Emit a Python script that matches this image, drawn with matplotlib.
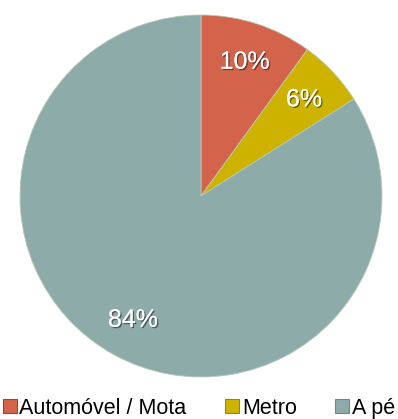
import matplotlib.pyplot as plt
import matplotlib.patheffects as pe
from matplotlib.patches import Rectangle

labels = ["Automóvel / Mota", "Metro", "A pé"]
shares = [10, 6, 84]
colors = ["#D3634B", "#CDB300", "#8CABA9"]
edges = ["#a5402c", "#9a8600", "#6d8b89"]

plt.rcParams['font.family'] = ['Liberation Sans', 'DejaVu Sans']

fig = plt.figure(figsize=(3.98, 4.19), dpi=100)
ax = fig.add_axes([20 / 398, 42 / 419, 362 / 398, 362 / 419])

wedges, texts, autotexts = ax.pie(
    shares, colors=colors, startangle=90, counterclock=False,
    autopct='%d%%', pctdistance=0.78, radius=1,
    wedgeprops=dict(edgecolor='#b7c9b5', linewidth=0.6),
    textprops=dict(color='white', fontsize=18))
for t in autotexts:
    t.set_path_effects([pe.withSimplePatchShadow(offset=(1, -1), shadow_rgbFace='black', alpha=0.45),
                        pe.Normal()])
ax.set_xlim(-1.0, 1.0)
ax.set_ylim(-1.0, 1.0)
ax.set_aspect('equal')

# legend squares along the bottom
handles = [Rectangle((0, 0), 1, 1, facecolor=c, edgecolor=e, linewidth=0.8)
           for c, e in zip(colors, edges)]
fig.legend(handles, labels, loc='center', bbox_to_anchor=(0.5, 11 / 419), ncol=3,
           frameon=False, fontsize=15.5, handlelength=0.65, handleheight=0.65,
           handletextpad=0.12, columnspacing=1.8, borderaxespad=0, borderpad=0)

fig.savefig('out.png', dpi=100)
